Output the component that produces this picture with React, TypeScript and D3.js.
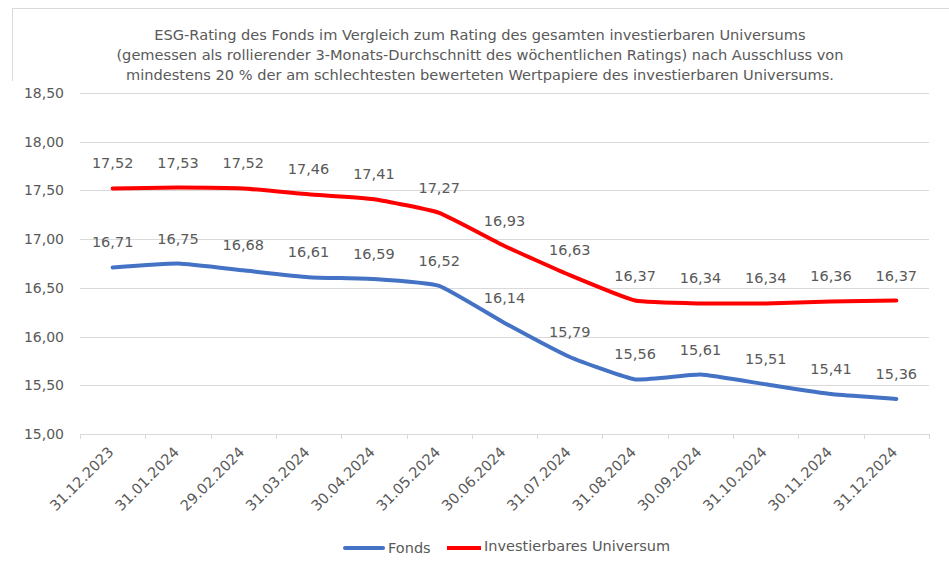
import React from "react";
import * as d3 from "d3";

const categories = [
  "31.12.2023", "31.01.2024", "29.02.2024", "31.03.2024", "30.04.2024", "31.05.2024",
  "30.06.2024", "31.07.2024", "31.08.2024", "30.09.2024", "31.10.2024", "30.11.2024", "31.12.2024",
];
const fonds = [16.71, 16.75, 16.68, 16.61, 16.59, 16.52, 16.14, 15.79, 15.56, 15.61, 15.51, 15.41, 15.36];
const universum = [17.52, 17.53, 17.52, 17.46, 17.41, 17.27, 16.93, 16.63, 16.37, 16.34, 16.34, 16.36, 16.37];
const yTicks = [15.0, 15.5, 16.0, 16.5, 17.0, 17.5, 18.0, 18.5];
const titleLines = [
  "ESG-Rating des Fonds im Vergleich zum Rating des gesamten investierbaren Universums",
  "(gemessen als rollierender 3-Monats-Durchschnitt des wöchentlichen Ratings) nach Ausschluss von",
  "mindestens 20 % der am schlechtesten bewerteten Wertpapiere des investierbaren Universums.",
];
const seriesNames = ["Fonds", "Investierbares Universum"];

const W = 949, H = 572;
const left = 80, right = 929, top = 93, bottom = 434;
const font = "DejaVu Sans, Verdana, sans-serif";
const textColor = "#595959";

const fmt = (v: number) => v.toFixed(2).replace(".", ",");

export default function App() {
  const x = d3.scaleBand<string>().domain(categories).range([left, right]);
  const y = d3.scaleLinear().domain([15, 18.5]).range([bottom, top]);
  const cx = (c: string) => (x(c) as number) + x.bandwidth() / 2;
  const line = d3
    .line<number>()
    .x((_, i) => cx(categories[i]))
    .y((d) => y(d))
    .curve(d3.curveCardinal.tension(0.6));

  const series = [
    { name: seriesNames[0], values: fonds, color: "#4472C4" },
    { name: seriesNames[1], values: universum, color: "#FF0000" },
  ];

  return (
    <svg
      width={W}
      height={H}
      style={{ position: "fixed", left: 0, top: 0, background: "#fff" }}
      fontFamily={font}
    >
      <rect x={0} y={0} width={W} height={H} fill="#fff" />
      <line x1={12} y1={8.5} x2={W} y2={8.5} stroke="#d9d9d9" strokeWidth={1} />
      <line x1={12.5} y1={8} x2={12.5} y2={81} stroke="#d9d9d9" strokeWidth={1} />
      {titleLines.map((t, i) => (
        <text key={i} x={480} y={40 + i * 20} textAnchor="middle" fontSize={14.6} fill={textColor}>
          {t}
        </text>
      ))}
      {yTicks.map((t) => (
        <g key={t}>
          <line x1={left} x2={right} y1={Math.round(y(t)) + 0.5} y2={Math.round(y(t)) + 0.5} stroke="#d9d9d9" strokeWidth={1} />
          <text x={64} y={y(t) + 5} textAnchor="end" fontSize={14} fill={textColor}>
            {fmt(t)}
          </text>
        </g>
      ))}
      {categories.concat([""]).map((c, i) => {
        const xx = Math.round(left + i * x.bandwidth()) + 0.5;
        return <line key={"tk" + i} x1={xx} x2={xx} y1={bottom} y2={bottom + 5} stroke="#d9d9d9" />;
      })}
      {categories.map((c) => (
        <text
          key={c}
          transform={`translate(${cx(c) + 2},${bottom + 19}) rotate(-45)`}
          textAnchor="end"
          fontSize={14.5}
          fill={textColor}
        >
          {c}
        </text>
      ))}
      {series.map((s) => (
        <path key={s.name} d={line(s.values) || ""} fill="none" stroke={s.color} strokeWidth={4} strokeLinecap="round" strokeLinejoin="round" />
      ))}
      {series.map((s) =>
        s.values.map((v, i) => (
          <text key={s.name + i} x={cx(categories[i])} y={y(v) - 20} textAnchor="middle" fontSize={14.5} fill={textColor}>
            {fmt(v)}
          </text>
        ))
      )}
      <g>
        <line x1={345} x2={383} y1={548} y2={548} stroke="#4472C4" strokeWidth={4} strokeLinecap="round" />
        <text x={388} y={553} fontSize={14.5} fill={textColor}>{seriesNames[0]}</text>
        <line x1={447} x2={481} y1={548} y2={548} stroke="#FF0000" strokeWidth={4} />
        <text x={484} y={551} fontSize={14.5} fill={textColor}>{seriesNames[1]}</text>
      </g>
    </svg>
  );
}
